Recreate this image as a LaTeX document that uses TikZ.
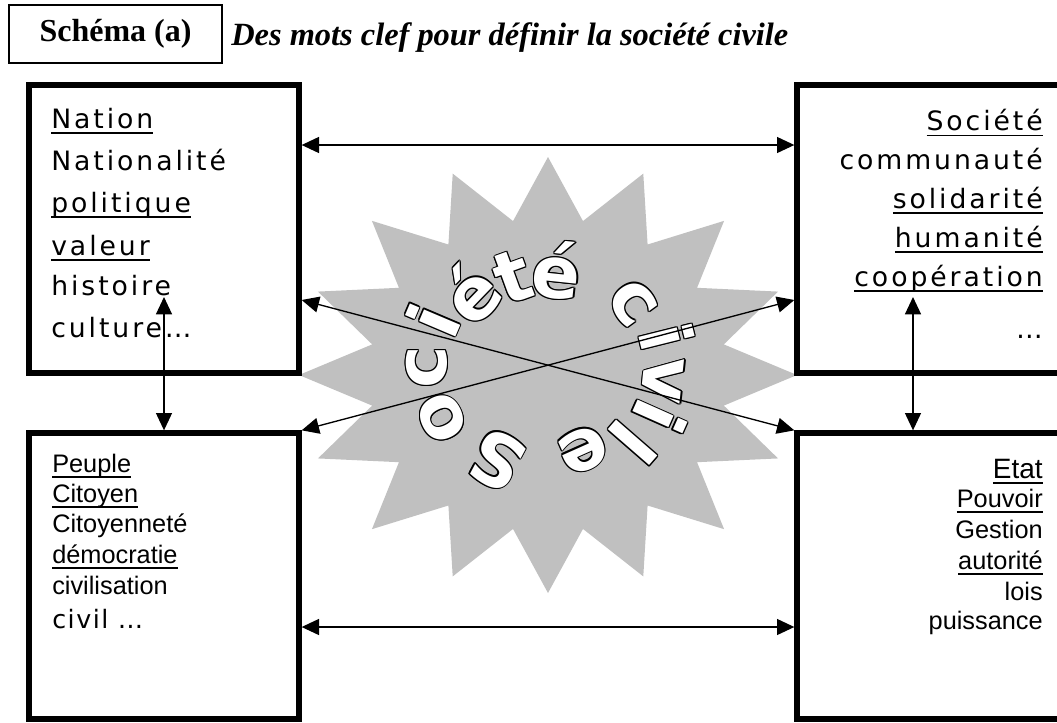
\documentclass[tikz,border=0pt]{standalone}
\usepackage{fontspec}
\usetikzlibrary{arrows.meta, positioning}

\setmainfont{Liberation Serif}
\newfontfamily\boxfont{Liberation Sans}
\newfontfamily\widefont[LetterSpace=11]{DejaVu Sans}
\newfontfamily\civilfont[LetterSpace=6]{DejaVu Sans}
\newfontfamily\starfont{DejaVu Sans}
\definecolor{stargray}{RGB}{192,192,192}

% underline at a fixed depth, through the descenders
\newcommand{\souligne}[1]{\setbox0\hbox{#1}\leavevmode\rlap{\rule[-4.2pt]{\wd0}{1.1pt}}\box0}
% white letter with a black outline
\newcommand{\cerneA}[2]{\rlap{\kern#1\raisebox{#2}{\textcolor{black}{\lettre}}}}
\newcommand{\cerne}[1]{\leavevmode\def\lettre{#1}%
  \cerneA{1pt}{0pt}\cerneA{-1pt}{0pt}\cerneA{0pt}{1pt}\cerneA{0pt}{-1pt}%
  \cerneA{0.7pt}{0.7pt}\cerneA{-0.7pt}{0.7pt}\cerneA{0.7pt}{-0.7pt}\cerneA{-0.7pt}{-0.7pt}%
  \textcolor{white}{#1}}

\tikzset{
  wordbox/.style={draw, line width=4pt, inner sep=0pt},
  link/.style={<->, line width=1pt},
  starletter/.style={inner sep=0pt, font=\starfont\bfseries\fontsize{54}{54}\selectfont},
}

\begin{document}
\begin{tikzpicture}[x=0.75pt, y=-0.75pt, >={Triangle[length=13pt, width=12pt]}]

  \def\px{0.75pt}
  \useasboundingbox (0,0) rectangle (1057,722);
  \clip (0,0) rectangle (1057,722);

  \node (schema) [draw, line width=0.8pt, minimum width=213*\px, minimum height=58*\px, font=\fontsize{24}{28}\selectfont\bfseries] at (115.5,34) {Schéma (a)};
  \node (titre) [anchor=base west, inner sep=0pt, font=\fontsize{24.3}{28}\selectfont\bfseries\itshape] at (231,45) {Des mots clef pour définir la société civile};

  % the grey star with the circular text
  \fill[stargray] (548,157) \foreach \k [evaluate=\k as \r using {mod(\k,2)==0 ? 1 : 0.72}] in {1,...,31} { -- ({548+249*\r*cos(90+11.25*\k)}, {375-218*\r*sin(90+11.25*\k)}) } -- cycle;

  \foreach \ch/\x/\y/\a [count=\i] in {S/497/460/242, o/442/418/206, c/427/367/180, i/433/320/157, é/470/293/136, t/513/277/110, é/557/270/84, c/633/303/36, i/667/337/14, v/663/380/-6, i/660/417/-24, l/633/443/-41, e/583/450/-66}
    \node (lettre\i) [starletter, rotate=\a-90] at (\x,\y) {\cerne{\ch}};

  \node (nation) [wordbox, minimum width=270*\px, minimum height=288*\px] at (164,229) {};
  \node (societe) [wordbox, minimum width=283*\px, minimum height=288*\px] at (938.5,229) {};
  \node (peuple) [wordbox, minimum width=270*\px, minimum height=286*\px] at (164,576) {};
  \node (etat) [wordbox, minimum width=283*\px, minimum height=286*\px] at (938.5,576) {};

  \foreach \w/\y [count=\i] in {\souligne{Nation}/128, Nationalité/170, \souligne{politique}/212, \souligne{valeur}/255, histoire/295, culture…/337}
    \node (nw\i) [anchor=base west, inner sep=0pt, font=\widefont\fontsize{20}{24}\selectfont] at (51,\y) {\w};

  \foreach \w/\y [count=\i] in {\souligne{Société}/130.7, communauté/169, \souligne{solidarité}/208, \souligne{humanité}/247, \souligne{coopération}/286, …/338}
    \node (ne\i) [anchor=base east, inner sep=0pt, font=\widefont\fontsize{20}{24}\selectfont] at (1043,\y) {\w};

  \foreach \w/\y [count=\i] in {\souligne{Peuple}/472, \souligne{Citoyen}/502, Citoyenneté/532, \souligne{démocratie}/563, civilisation/594, {\civilfont civil …}/628}
    \node (sw\i) [anchor=base west, inner sep=0pt, font=\boxfont\fontsize{19}{23}\selectfont] at (52,\y) {\w};

  \foreach \w/\y [count=\i] in {{\fontsize{21}{25}\selectfont\souligne{Etat}}/478, \souligne{Pouvoir}/507, Gestion/538, \souligne{autorité}/569, lois/600, puissance/629}
    \node (se\i) [anchor=base east, inner sep=0pt, font=\boxfont\fontsize{19}{23}\selectfont] at (1043,\y) {\w};

  \coordinate (haut) at (0,145);
  \coordinate (bas) at (0,627);
  \coordinate (diag) at (0,300);
  \coordinate (natip) at (164,297);
  \coordinate (sotip) at (913,297);

  \draw[link] (nation.east |- haut) -- (societe.west |- haut);
  \draw[link] (peuple.east |- bas) -- (etat.west |- bas);
  \draw[link] (natip) -- (peuple.north);
  \draw[link] (sotip) -- (sotip |- etat.north);
  \draw[link] (nation.east |- diag) -- (etat.north west);
  \draw[link] (societe.west |- diag) -- (peuple.north east);

\end{tikzpicture}
\end{document}
